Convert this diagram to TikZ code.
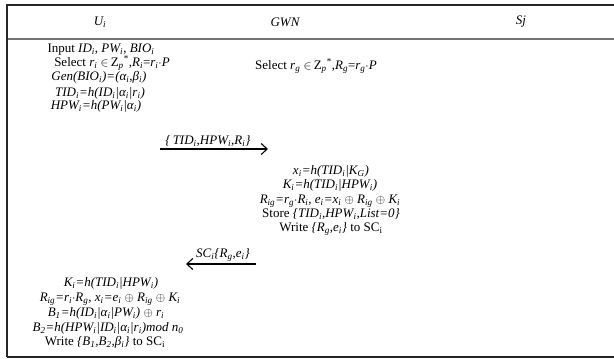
\documentclass[tikz,border=0pt]{standalone}
\usepackage{fontspec}
\setmainfont{Liberation Serif}
\usetikzlibrary{arrows.meta}
\newcommand{\ssb}[1]{\textsubscript{#1}}
\newcommand{\ssp}[1]{\textsuperscript{#1}}
\newcommand{\cat}{\textbar}
\begin{document}
\begin{tikzpicture}[x=1pt,y=-1pt,
  txt/.style={inner sep=0pt,text height=9pt,text depth=2.5pt,font=\fontsize{13}{15}\selectfont},
  hdr/.style={inner sep=0pt,font=\fontsize{13}{15}\selectfont\itshape},
  frame/.style={line width=2pt,black!85},
  sep/.style={line width=1.2pt,black!55},
  msg/.style={line width=1.1pt,-{Straight Barb[length=6pt,width=11pt,line width=1.1pt]}}]
\useasboundingbox (0,0) rectangle (614,359);
% frame
\coordinate (tl) at (7,5);
\coordinate (tr) at (614,5);
\coordinate (bl) at (7,357);
\coordinate (br) at (614,357);
\coordinate (hl) at (8,39);
\coordinate (hr) at (614,39);
\draw[frame] (bl) -- (tl) -- (tr);
\draw[frame] (bl) -- (br);
\draw[sep] (hl) -- (hr);
% headers
\node[hdr] (hu) at (100,22) {U\ssb{i}};
\node[hdr] (hg) at (285,22) {GWN};
\node[hdr] (hs) at (521,22) {Sj};
% Ui block 1
\node[txt] (u1) at (101,49) {Input \textit{ID\ssb{i}}, \textit{PW\ssb{i}}, \textit{BIO\ssb{i}}};
\node[txt] (u2) at (112,63) {Select \textit{r\ssb{i}} $\in$\,Z\ssb{\textit{p}}\ssp{*},\textit{R\ssb{i}}=\textit{r\ssb{i}}$\cdot$\textit{P}};
\node[txt] (u3) at (99,77) {\textit{Gen(BIO\ssb{i})=(α\ssb{i},β\ssb{i})}};
\node[txt] (u4) at (100,93) {\textit{TID\ssb{i}=h(ID\ssb{i}\cat α\ssb{i}\cat r\ssb{i})}};
\node[txt] (u5) at (96,106) {\textit{HPW\ssb{i}=h(PW\ssb{i}\cat α\ssb{i})}};
% GWN select
\node[txt] (g0) at (316,66) {Select \textit{r\ssb{g}} $\in$\,Z\ssb{\textit{p}}\ssp{*},\textit{R\ssb{g}}=\textit{r\ssb{g}}$\cdot$\textit{P}};
% arrow 1
\coordinate (a1s) at (160,149);
\coordinate (a1e) at (268,149);
\draw[msg] (a1s) -- (a1e);
\node[txt] (l1) at (208,141) {\textit{\{\,TID\ssb{i},HPW\ssb{i},R\ssb{i}\}}};
% GWN block
\node[txt] (g1) at (331,171) {\textit{x\ssb{i}=h(TID\ssb{i}\cat K\ssb{G})}};
\node[txt] (g2) at (330,185) {\textit{K\ssb{i}=h(TID\ssb{i}\cat HPW\ssb{i})}};
\node[txt] (g3) at (330,200) {\textit{R\ssb{ig}=r\ssb{g}$\cdot$R\ssb{i}, e\ssb{i}=x\ssb{i}} $\oplus$ \textit{R\ssb{ig}} $\oplus$ \textit{K\ssb{i}}};
\node[txt] (g4) at (331,214) {Store \textit{\{TID\ssb{i},HPW\ssb{i},List=0\}}};
\node[txt] (g5) at (331,228) {Write \textit{\{R\ssb{g},e\ssb{i}\}} to SC\ssb{i}};
% arrow 2
\coordinate (a2s) at (256,264);
\coordinate (a2e) at (186,264);
\draw[msg] (a2s) -- (a2e);
\node[txt] (l2) at (223,254) {\textit{SC\ssb{i}\{R\ssb{g},e\ssb{i}\}}};
% Ui block 2
\node[txt] (b1) at (111,283) {\textit{K\ssb{i}=h(TID\ssb{i}\cat HPW\ssb{i})}};
\node[txt] (b2) at (110,298) {\textit{R\ssb{ig}=r\ssb{i}$\cdot$R\ssb{g}, x\ssb{i}=e\ssb{i}} $\oplus$ \textit{R\ssb{ig}} $\oplus$ \textit{K\ssb{i}}};
\node[txt] (b3) at (106,313) {\textit{B\ssb{1}=h(ID\ssb{i}\cat α\ssb{i}\cat PW\ssb{i})} $\oplus$ \textit{r\ssb{i}}};
\node[txt] (b4) at (108,328) {\textit{B\ssb{2}=h(HPW\ssb{i}\cat ID\ssb{i}\cat α\ssb{i}\cat r\ssb{i})mod n\ssb{0}}};
\node[txt] (b5) at (105,342) {Write \textit{\{B\ssb{1},B\ssb{2},β\ssb{i}\}} to SC\ssb{i}};
\end{tikzpicture}
\end{document}
